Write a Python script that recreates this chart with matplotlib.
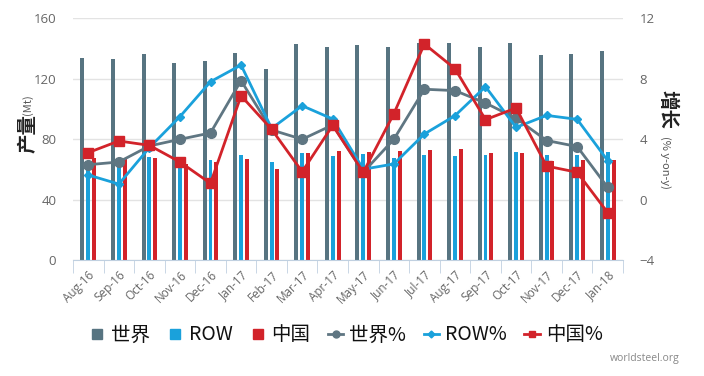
import matplotlib
matplotlib.use("Agg")
import matplotlib.pyplot as plt
from matplotlib.lines import Line2D
import numpy as np

months = ["Aug-16", "Sep-16", "Oct-16", "Nov-16", "Dec-16", "Jan-17", "Feb-17", "Mar-17",
          "Apr-17", "May-17", "Jun-17", "Jul-17", "Aug-17", "Sep-17", "Oct-17", "Nov-17",
          "Dec-17", "Jan-18"]
world = [133.4, 132.7, 136.2, 130.2, 131.6, 136.9, 126.3, 142.8, 140.8, 142.1, 140.8, 143.5,
         143.5, 140.8, 143.5, 135.5, 136.2, 138.2]
row = [64, 64, 68, 63, 66, 69.4, 64.8, 70.5, 68.8, 70, 67.4, 69.4, 68.8, 69.4, 71.4, 69.4,
       69.4, 71.4]
china = [67.4, 66.8, 67.4, 63.5, 64.8, 66.8, 60.2, 70.7, 72, 71.4, 72, 72.7, 73.4, 70.7, 70.7,
         65.5, 66, 66]
world_pct = [2.3, 2.48, 3.54, 3.98, 4.4, 7.86, 4.6, 3.98, 4.93, 1.8, 3.98, 7.29, 7.2, 6.38,
             5.37, 3.9, 3.5, 0.8]
row_pct = [1.62, 1.02, 3.43, 5.48, 7.79, 8.89, 4.7, 6.2, 5.32, 2.0, 2.35, 4.33, 5.54, 7.46,
           4.77, 5.56, 5.3, 2.57]
china_pct = [3.1, 3.87, 3.58, 2.48, 1.07, 6.86, 4.64, 1.84, 4.9, 1.8, 5.67, 10.28, 8.65, 5.28,
             6.05, 2.21, 1.8, -0.87]
left_ticks = [0, 40, 80, 120, 160]
right_ticks = [-4, 0, 4, 8, 12]
legend_labels = ["世界", "ROW", "中国", "世界%", "ROW%", "中国%"]

C_WORLD = "#577481"
C_ROW = "#1aa1db"
C_CHINA = "#d2232a"
C_WLINE = "#5f7682"
TXT = "#666666"

plt.rcParams['font.family'] = ['Noto Sans CJK SC', 'DejaVu Sans']

fig = plt.figure(figsize=(7.04, 3.76), dpi=100)
ax = fig.add_axes([73/704, 1-260/376, 550/704, 242/376])
ax2 = ax.twinx()

x = np.arange(len(months))
bw = 0.13
ax.bar(x - 0.19, world, bw, color=C_WORLD, zorder=2)
ax.bar(x, row, bw, color=C_ROW, zorder=2)
ax.bar(x + 0.19, china, bw, color=C_CHINA, zorder=2)

ax.set_ylim(0, 160)
ax.set_yticks(left_ticks)
ax.set_xlim(-0.5, len(months) - 0.5)
ax.grid(axis='y', color='#e3e3e3', lw=1, zorder=0)
ax.set_axisbelow(True)
for s in ['top', 'right', 'left']:
    ax.spines[s].set_visible(False)
ax.spines['bottom'].set_color('#c0d0e0')
ax.tick_params(axis='y', length=0, labelsize=9.5, labelcolor=TXT, pad=12)
ax.set_xticks(x)
ax.set_xticklabels(months, rotation=45, ha='right', rotation_mode='anchor',
                   fontsize=8.5, color=TXT, family=['Open Sans', 'DejaVu Sans'])
ax.tick_params(axis='x', length=0, pad=6)
ax.set_xticks(np.arange(-0.5, len(months)), minor=True)
ax.tick_params(axis='x', which='minor', length=9, color='#c0d0e0')

ax2.plot(x, world_pct, color=C_WLINE, lw=2, marker='o', ms=7, zorder=5)
ax2.plot(x, row_pct, color=C_ROW, lw=2, marker='D', ms=4.5, zorder=5)
ax2.plot(x, china_pct, color=C_CHINA, lw=2, marker='s', ms=7, zorder=5)
ax2.set_ylim(-4, 12)
ax2.set_yticks(right_ticks)
for s in ['top', 'right', 'left', 'bottom']:
    ax2.spines[s].set_visible(False)
ax2.tick_params(axis='y', length=0, labelsize=9.5, labelcolor=TXT, pad=12)
for t in ax.get_yticklabels() + ax2.get_yticklabels():
    t.set_family(['Open Sans', 'DejaVu Sans'])

fig.text(28/704, 1-133/376, "产量", rotation=90, fontsize=14, fontweight='bold',
         ha='center', va='center', color='#222222')
fig.text(28/704, 1-105/376, "(Mt)", rotation=90, fontsize=8, ha='center', va='center',
         color='#555555')
fig.text(667/704, 1-110/376, "增长", rotation=270, fontsize=14, fontweight='bold',
         ha='center', va='center', color='#222222')
fig.text(665/704, 1-162/376, "(% y-on-y)", rotation=270, fontsize=8, ha='center',
         va='center', color='#555555')

handles = [
    Line2D([], [], ls='none', marker='s', ms=7, color=C_WORLD),
    Line2D([], [], ls='none', marker='s', ms=7, color=C_ROW),
    Line2D([], [], ls='none', marker='s', ms=7, color=C_CHINA),
    Line2D([], [], color=C_WLINE, lw=2, marker='o', ms=5),
    Line2D([], [], color=C_ROW, lw=2, marker='D', ms=3.5),
    Line2D([], [], color=C_CHINA, lw=2, marker='s', ms=5),
]
leg = fig.legend(handles, legend_labels, loc='center', bbox_to_anchor=(346/704, 1-335/376),
                 ncol=6, frameon=False, handlelength=0.8, handletextpad=0.3,
                 columnspacing=0.9, borderpad=0, borderaxespad=0,
                 prop={'family': ['Liberation Sans Narrow', 'Noto Sans CJK SC'], 'size': 14})
for t in leg.get_texts():
    t.set_color('#111111')
fig.text(680/704, 1-358/376, "worldsteel.org", fontsize=7.5, color='#888888',
         ha='right', va='center', family=['Open Sans', 'DejaVu Sans'])

fig.savefig("out.png", dpi=100)
